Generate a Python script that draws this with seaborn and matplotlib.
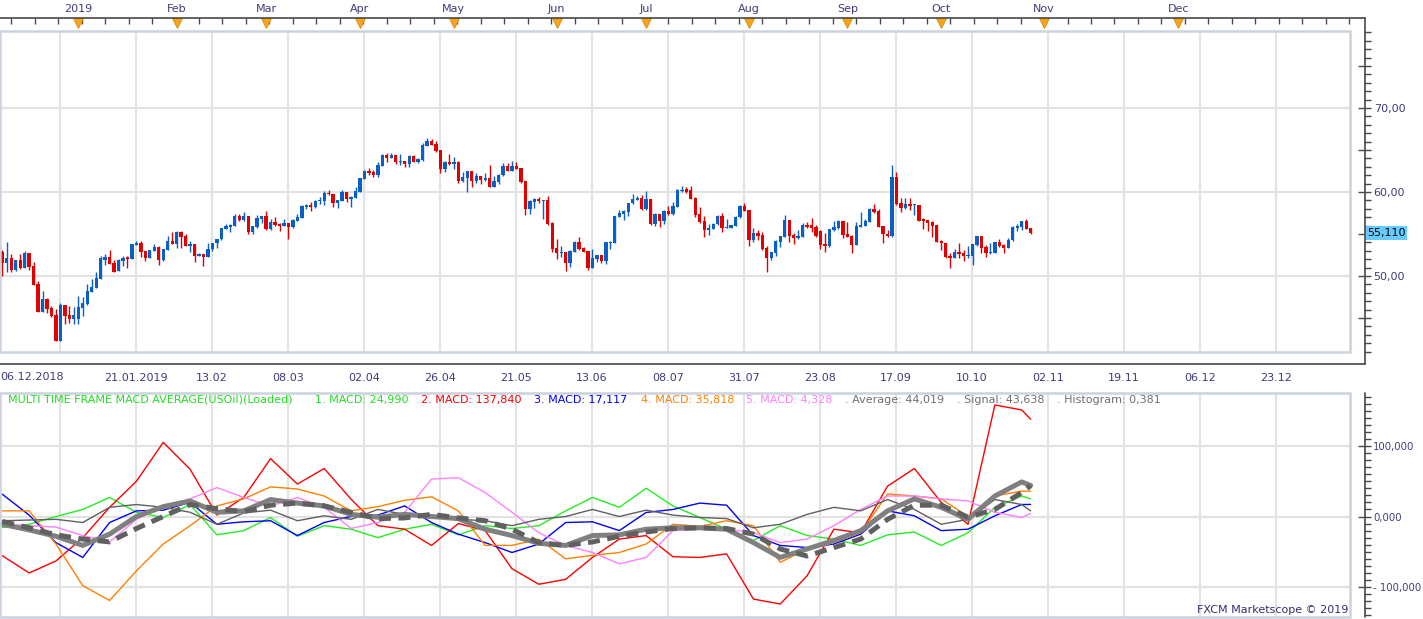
import numpy as np
import matplotlib
matplotlib.use("Agg")
import matplotlib.pyplot as plt
import seaborn as sns
from matplotlib.lines import Line2D
from matplotlib.patches import Rectangle
from matplotlib.ticker import FixedLocator, FixedFormatter, MultipleLocator, NullFormatter
from matplotlib.transforms import blended_transform_factory

# ---------------- data ----------------
opens = [52.82, 51.59, 52.10, 50.71, 51.90, 50.99, 52.70, 51.19, 49.05, 45.75,
         47.26, 46.15, 45.36, 42.30, 46.55, 45.36, 44.88, 44.88, 46.23, 46.67,
         48.13, 48.60, 49.64, 51.90, 52.30, 51.60, 50.60, 51.79, 52.30, 52.06,
         53.73, 53.97, 52.98, 52.10, 53.00, 53.50, 51.90, 53.10, 54.17, 53.80,
         55.28, 54.80, 53.60, 53.80, 52.38, 52.60, 52.30, 53.17, 53.90, 54.37,
         55.63, 55.87, 55.95, 57.14, 56.67, 57.14, 55.24, 55.80, 56.84, 57.14,
         55.56, 56.47, 56.23, 55.95, 56.31, 55.79, 56.59, 56.90, 58.20, 58.45,
         58.20, 58.97, 58.93, 59.92, 59.72, 58.73, 58.93, 59.96, 59.20, 59.32,
         60.04, 61.55, 62.50, 62.34, 62.02, 63.13, 64.40, 64.09, 64.40, 63.61,
         63.69, 63.33, 64.28, 63.57, 63.81, 65.50, 66.07, 65.70, 64.99, 62.74,
         63.57, 63.33, 63.57, 61.31, 61.70, 62.50, 61.31, 61.90, 61.43, 61.67,
         60.63, 61.23, 62.00, 63.10, 62.50, 63.10, 62.86, 61.31, 57.97, 58.85,
         59.17, 58.97, 59.05, 56.35, 53.37, 52.74, 52.86, 51.59, 52.86, 54.05,
         53.37, 52.98, 50.99, 52.06, 52.50, 51.78, 53.89, 53.97, 57.06, 57.42,
         57.66, 58.65, 59.05, 59.29, 57.97, 59.17, 56.19, 57.38, 56.59, 57.74,
         57.38, 58.25, 60.12, 60.36, 60.24, 59.29, 57.38, 56.55, 55.48, 55.63,
         56.15, 57.14, 55.75, 55.75, 56.00, 56.98, 58.33, 57.86, 54.29, 55.16,
         54.88, 53.33, 52.14, 52.78, 54.09, 54.68, 56.67, 54.84, 54.52, 54.68,
         56.07, 56.07, 55.83, 55.40, 53.81, 53.57, 55.48, 55.67, 56.55, 54.99,
         54.80, 53.73, 55.87, 56.00, 56.47, 57.98, 57.74, 55.95, 54.99, 54.76,
         61.79, 58.65, 58.13, 58.61, 58.45, 58.45, 56.79, 56.67, 56.47, 56.07,
         54.21, 53.89, 52.38, 52.18, 52.86, 52.70, 52.38, 52.38, 53.69, 54.76,
         53.41, 52.78, 52.78, 54.05, 53.69, 53.37, 54.25, 55.75, 55.83, 56.55,
         55.71]
closes = [51.59, 52.10, 50.71, 51.90, 50.91, 52.70, 51.10, 48.93, 45.75, 47.26,
          46.07, 45.28, 42.30, 46.55, 45.28, 44.88, 45.36, 46.30, 46.83, 48.20,
          48.73, 49.76, 52.18, 52.30, 51.43, 50.50, 51.90, 52.20, 52.00, 53.80,
          53.97, 52.90, 52.18, 53.10, 53.50, 51.90, 53.20, 54.17, 53.80, 55.28,
          54.68, 53.60, 53.80, 52.40, 52.60, 52.30, 53.20, 53.90, 54.40, 55.67,
          55.95, 56.10, 57.14, 56.67, 57.14, 55.24, 55.95, 56.87, 57.14, 55.56,
          56.47, 56.07, 55.95, 56.35, 55.79, 56.67, 57.06, 58.33, 58.45, 58.20,
          58.97, 59.05, 59.92, 59.72, 58.73, 59.05, 59.96, 59.17, 59.40, 60.12,
          61.63, 62.50, 62.22, 62.02, 63.21, 64.40, 64.09, 64.40, 63.61, 63.69,
          63.33, 64.28, 63.61, 63.93, 65.60, 66.07, 65.60, 64.88, 62.74, 63.57,
          63.33, 63.57, 61.31, 61.75, 62.50, 61.31, 61.90, 61.43, 61.70, 60.63,
          61.31, 62.02, 63.10, 62.54, 63.10, 62.74, 61.19, 57.97, 58.93, 59.17,
          58.93, 59.05, 56.19, 53.21, 52.78, 52.90, 51.59, 52.98, 54.05, 53.21,
          52.86, 50.99, 52.14, 52.50, 51.78, 54.00, 54.01, 57.14, 57.46, 57.74,
          58.69, 59.17, 59.29, 57.97, 59.17, 56.19, 57.38, 56.59, 57.74, 57.38,
          58.37, 60.24, 60.28, 60.04, 59.20, 57.26, 56.43, 55.48, 55.71, 56.19,
          57.14, 55.75, 55.87, 56.07, 56.98, 58.33, 57.78, 54.29, 55.16, 54.76,
          53.21, 52.14, 52.82, 54.21, 54.76, 56.67, 54.76, 54.52, 54.72, 56.07,
          55.79, 55.67, 54.80, 53.69, 53.57, 55.59, 55.87, 56.55, 54.88, 54.68,
          53.73, 55.95, 56.07, 56.55, 57.98, 57.58, 55.87, 54.96, 54.76, 61.79,
          58.57, 58.13, 58.61, 58.37, 58.53, 56.55, 56.55, 56.35, 55.99, 54.09,
          53.89, 52.26, 52.18, 52.86, 52.58, 52.42, 52.50, 53.81, 54.76, 53.37,
          52.78, 52.90, 54.05, 53.57, 53.37, 54.25, 55.83, 55.95, 56.55, 55.60,
          55.11]
highs = [53.10, 54.00, 52.62, 51.95, 52.62, 52.98, 52.75, 51.67, 49.40, 48.20,
         47.35, 46.43, 46.03, 46.80, 46.60, 46.43, 46.30, 47.60, 47.54, 49.05,
         49.60, 50.50, 52.38, 52.62, 53.10, 51.90, 52.00, 52.42, 52.35, 53.85,
         54.17, 54.17, 53.00, 53.15, 53.81, 53.55, 53.25, 54.80, 55.28, 55.35,
         55.35, 55.00, 54.17, 53.85, 52.78, 52.65, 53.89, 53.95, 54.45, 55.75,
         56.19, 56.15, 57.38, 57.38, 57.66, 57.20, 56.00, 57.26, 57.20, 57.78,
         56.79, 57.06, 56.28, 56.79, 56.36, 56.79, 57.38, 58.40, 58.57, 58.85,
         59.05, 59.44, 60.12, 60.24, 59.80, 59.10, 60.24, 60.00, 59.50, 60.63,
         61.70, 62.62, 62.90, 62.62, 63.61, 64.50, 64.64, 64.60, 64.45, 64.52,
         63.75, 64.35, 64.40, 64.09, 65.87, 66.43, 66.31, 66.07, 65.05, 63.65,
         64.52, 64.20, 63.65, 62.38, 62.55, 62.55, 62.22, 61.95, 62.22, 63.21,
         61.90, 62.10, 63.41, 63.49, 63.69, 63.57, 62.90, 61.35, 59.00, 59.25,
         59.44, 59.10, 59.52, 56.40, 54.41, 53.57, 52.90, 53.05, 54.17, 54.64,
         53.40, 53.00, 53.21, 52.55, 52.55, 54.05, 54.21, 57.20, 57.86, 57.80,
         58.75, 59.76, 59.52, 59.60, 60.16, 59.20, 57.45, 57.40, 57.80, 58.33,
         58.85, 60.36, 60.71, 60.59, 60.71, 59.35, 58.17, 57.14, 56.19, 56.25,
         57.26, 57.54, 56.79, 56.12, 57.14, 58.40, 58.73, 57.90, 55.67, 55.48,
         55.28, 53.57, 52.90, 54.25, 54.80, 57.26, 56.70, 55.16, 55.48, 56.27,
         56.43, 56.87, 56.07, 55.45, 55.08, 55.65, 56.59, 56.67, 56.60, 56.47,
         54.88, 56.47, 57.58, 56.75, 58.05, 58.61, 57.98, 56.00, 55.48, 63.21,
         62.38, 59.25, 59.25, 59.25, 58.60, 58.50, 56.95, 56.70, 56.50, 56.10,
         54.25, 53.95, 52.70, 53.17, 53.89, 53.10, 53.57, 53.85, 54.80, 54.80,
         53.69, 53.97, 54.10, 54.37, 53.75, 54.57, 55.90, 56.15, 56.60, 56.79,
         55.75]
lows = [50.04, 50.50, 50.52, 50.60, 50.83, 50.99, 50.71, 48.90, 45.70, 45.70,
        45.60, 45.08, 42.25, 42.25, 44.30, 44.40, 44.30, 44.30, 45.24, 46.55,
        48.05, 48.55, 49.60, 51.35, 51.40, 50.45, 50.55, 51.23, 50.99, 52.00,
        53.70, 52.22, 51.79, 52.10, 52.95, 51.35, 51.79, 53.05, 53.75, 53.29,
        53.29, 53.55, 52.90, 51.71, 52.35, 51.23, 52.25, 53.02, 53.29, 54.30,
        55.58, 55.28, 55.90, 56.60, 56.60, 55.00, 55.00, 55.67, 56.27, 55.50,
        55.50, 56.00, 55.36, 55.90, 54.40, 55.75, 56.55, 56.85, 57.98, 57.74,
        58.15, 58.57, 58.45, 59.65, 58.17, 58.13, 58.90, 58.85, 58.25, 59.28,
        60.00, 61.50, 62.02, 61.82, 61.82, 63.10, 63.61, 64.00, 63.29, 63.21,
        63.02, 63.02, 63.55, 63.49, 63.75, 65.45, 65.55, 64.80, 62.30, 62.42,
        63.25, 62.74, 61.03, 61.20, 60.04, 60.63, 61.11, 60.91, 61.35, 60.55,
        60.55, 60.91, 61.95, 62.45, 62.45, 62.70, 61.10, 57.26, 57.42, 58.13,
        58.65, 56.79, 56.10, 52.86, 52.06, 52.30, 50.63, 51.11, 52.80, 53.15,
        52.80, 50.75, 50.95, 51.71, 51.59, 51.43, 53.21, 53.90, 57.00, 56.71,
        57.18, 58.60, 59.00, 57.81, 57.90, 56.07, 55.95, 55.87, 56.15, 57.26,
        57.30, 58.20, 60.05, 59.92, 59.15, 57.06, 56.35, 54.68, 54.88, 55.55,
        56.10, 55.24, 55.70, 55.67, 55.95, 56.90, 57.70, 53.61, 54.09, 54.29,
        53.15, 50.52, 51.90, 52.42, 53.49, 54.60, 54.09, 53.77, 54.45, 54.60,
        55.70, 55.28, 54.70, 53.21, 52.90, 53.50, 55.40, 55.60, 54.56, 54.60,
        52.78, 53.65, 55.80, 55.95, 56.40, 57.50, 55.80, 53.97, 54.70, 54.70,
        58.50, 57.58, 57.97, 57.86, 57.26, 56.50, 55.60, 55.40, 54.68, 54.00,
        53.10, 52.18, 50.99, 52.10, 52.18, 51.83, 52.18, 51.35, 53.57, 52.70,
        52.30, 52.58, 52.70, 53.50, 52.70, 53.30, 54.20, 55.32, 55.48, 55.55,
        55.05]

month_labels = ['2019', 'Feb', 'Mar', 'Apr', 'May', 'Jun', 'Jul', 'Aug', 'Sep', 'Oct', 'Nov', 'Dec']
month_pos = [17, 39, 59, 80, 101, 124, 144, 167, 189, 210, 233, 263]
date_labels = ['06.12.2018', '21.01.2019', '13.02', '08.03', '02.04', '26.04', '21.05', '13.06',
               '08.07', '31.07', '23.08', '17.09', '10.10', '02.11', '19.11', '06.12', '23.12']
price_labels = ['', '50,00', '', '60,00', '', '70,00', '']
macd_labels = ['- 100,000', '0,000', '100,000']

macd_x = list(range(0, 229, 6)) + [230]
macd1 = [-15.6, -11, 0, 10, 27, 6, -1.4, 17, -26, -20, -1.4, -28, -13, -18, -30, -18, -11, -26, -13,
         -17, -13, 8, 27, 13, 40, 15, -1.4, -18, -34, -13, -27, -32, -41, -26, -22, -41, -23, 13, 29, 25.0]
macd2 = [-55.6, -80, -63, -30, 13, 50, 105, 67, 2, 27, 82, 46, 68, 24.5, -13, -18, -41, -10, -20,
         -74, -96, -89, -58, -32, -27, -57, -58, -53, -117, -124, -84, -18, -23, 43, 68, 20, -11, 158, 151, 137.8]
macd3 = [31.6, 2, -37, -58, -8.5, 8, 9, 20, -11, -7.5, -6, -27, -8.5, 0, 2, 15, -8.5, -25, -37,
         -51, -39, -8.5, -7.5, -20, 5.7, 10, 19, 16, -27, -41, -44, -39, -25, 8, 1, -20, -18, 1, 17, 17.1]
macd4 = [8, 8, -39, -98, -119, -77, -39, -13, 15, 25, 42, 39, 29, 8, 14, 23, 28, 8, -41,
         -41, -32, -60, -55, -51, -39, -11, -14, -6, -13, -65, -46, -37, -23, 32, 29, 25, 0, 29, 36, 35.8]
macd5 = [-11, -13, -15, -27, -36, -4, 14, 25, 41, 27, 15, 27, 13, -17, -8.5, 6, 53, 55, 34,
         6, -23, -41, -51, -67, -58, -20, -18, -18, -23, -37, -32, -13, 10, 29, 29, 25, 22, 6, -1.4, 4.3]
hist_line = [-6, -5, -4, -8.5, 13, 17, 13, 6, -11, 5, 9, -6, 1, -4, 10, 3, 1, -4, -6,
             -13, -4, 0, 10, 0, 9, 2, -1.4, -3, -16, -11, 3, 13, 8, 24, 10, -11, -4, 24, 17, 8]
average = [-11, -19, -28, -41, -25, 0, 14, 22, 6, 8, 24, 19, 15, 3, -1, 3, 0, -3, -18,
           -27, -38, -41, -27, -26, -18, -16, -16, -18, -37, -58, -46, -34, -20, 8, 25, 13, -4, 29, 49, 44]
signal = [-7, -16, -26, -32, -36, -17, 0, 17, 11, 7, 16, 19, 15, 6, -3, -2, 3, -2, -6,
          -18, -37, -41, -36, -28, -22, -17, -16, -17, -25, -46, -56, -44, -32, -4, 16, 16, -1, 10, 34, 43.6]

legend_items = [("MULTI TIME FRAME MACD AVERAGE(USOil)(Loaded)", '#22dd22'),
                ("1. MACD: 24,990", '#22dd22'), ("2. MACD: 137,840", '#ff0000'),
                ("3. MACD: 17,117", '#0000ff'), ("4. MACD: 35,818", '#ff8000'),
                ("5. MACD: 4,328", '#ff80ff'), (". Average: 44,019", '#707070'),
                (". Signal: 43,638", '#707070'), (". Histogram: 0,381", '#707070')]
last_price = 55.11

# ---------------- layout ----------------
sns.set_theme(style='white')
plt.rcParams['font.family'] = ['DejaVu Sans']

W, H = 1423, 619
fig = plt.figure(figsize=(W / 100, H / 100), dpi=100)
fig.patch.set_facecolor('white')


def rect(x0, y0, x1, y1):
    return [x0 / W, 1 - y1 / H, (x1 - x0) / W, (y1 - y0) / H]


def fx(px):
    return px / W


def fy(py):
    return 1 - py / H


BAR_PX = 4.471
X0 = -2.3 / BAR_PX
X1 = (1350 - 2.3) / BAR_PX
AXC = '#4a4a4a'
TXT = '#3c3c7c'
GRID = '#e2e2e2'
FRAME = '#cbd3de'
BLUE = '#0a5fc4'
RED = '#e00000'
PX2PT = 72 / 100

ax = fig.add_axes(rect(0, 31, 1350, 352))
ax2 = fig.add_axes(rect(0, 393, 1350, 617))
axm = fig.add_axes(rect(0, 18, 1365, 31))

grid_x = [12.905 + 16.998 * k for k in range(17)]

# ---- candles ----
o = np.array(opens)
c = np.array(closes)
hi = np.array(highs)
lo = np.array(lows)
xi = np.arange(len(c))
cols = np.where(c >= o, BLUE, RED)
ax.vlines(xi, lo, hi, colors=cols, lw=1.0, zorder=3)
ax.bar(xi, np.maximum(np.abs(c - o), 0.07), bottom=np.minimum(o, c), width=0.74,
       color=cols, linewidth=0, zorder=4)

for a in (ax, ax2):
    a.set_xlim(X0, X1)
    a.set_facecolor('white')
    for gx in grid_x:
        a.axvline(gx, color=GRID, lw=1.5, zorder=0)
    for s in a.spines.values():
        s.set_visible(False)
    a.add_patch(Rectangle((0, 0), 1, 1, transform=a.transAxes, fill=False,
                          ec=FRAME, lw=1.8, zorder=6, clip_on=False))

ax.set_ylim(40.95, 79.17)
for gy in (50, 60, 70):
    ax.axhline(gy, color=GRID, lw=1.5, zorder=0)
ax2.set_ylim(-142.4, 175)
for gy in (-100, 0, 100):
    ax2.axhline(gy, color=GRID, lw=1.5, zorder=0)

# ---- MACD panel lines (seaborn) ----
for series, colr in ((macd1, '#22ee22'), (macd2, '#ff0000'), (macd3, '#0000ff'),
                     (macd4, '#ff8000'), (macd5, '#ff80ff'), (hist_line, '#606060')):
    sns.lineplot(x=macd_x, y=series, ax=ax2, color=colr, lw=1.0, zorder=3)
sns.lineplot(x=macd_x, y=average, ax=ax2, color='#808080', lw=5 * PX2PT, zorder=4)
sns.lineplot(x=macd_x, y=signal, ax=ax2, color='#606060', lw=5 * PX2PT, zorder=5)
ax2.lines[-1].set_linestyle((0, (2.4, 1.5)))
ax2.set_xlabel('')
ax2.set_ylabel('')

# ---- right price axis ----
ax.yaxis.tick_right()
ax.spines['right'].set_position(('outward', 15 * PX2PT / 0.72))
ax.yaxis.set_major_locator(FixedLocator([45, 50, 55, 60, 65, 70, 75]))
ax.yaxis.set_major_formatter(FixedFormatter(price_labels))
ax.yaxis.set_minor_locator(MultipleLocator(1))
ax.tick_params(axis='y', which='major', direction='in', length=13 * PX2PT, width=1,
               color=AXC, labelsize=8, labelcolor=TXT, pad=2)
ax.tick_params(axis='y', which='minor', direction='in', length=7 * PX2PT, width=1, color=AXC)

# ---- bottom date axis ----
ax.spines['bottom'].set_position(('outward', 12 * PX2PT / 0.72))
ax.xaxis.set_major_locator(FixedLocator(grid_x))
ax.xaxis.set_major_formatter(FixedFormatter([''] + date_labels[1:]))
ax.xaxis.set_minor_locator(FixedLocator([12.905 + 4.2495 * k for k in range(-3, 69)]))
ax.xaxis.set_minor_formatter(NullFormatter())
ax.tick_params(axis='x', which='major', direction='in', length=12 * PX2PT, width=1,
               color=AXC, labelsize=8, labelcolor=TXT, pad=3)
ax.tick_params(axis='x', which='minor', direction='in', length=6 * PX2PT, width=1, color=AXC)
ax.text(X0, -0.078, date_labels[0], transform=blended_transform_factory(ax.transData, ax.transAxes),
        ha='left', va='center', fontsize=8, color=TXT)

# ---- right MACD axis ----
ax2.yaxis.tick_right()
ax2.spines['right'].set_position(('outward', 15 * PX2PT / 0.72))
ax2.yaxis.set_major_locator(FixedLocator([-100, 0, 100]))
ax2.yaxis.set_major_formatter(FixedFormatter(macd_labels))
ax2.yaxis.set_minor_locator(MultipleLocator(10))
ax2.tick_params(axis='y', which='major', direction='in', length=13 * PX2PT, width=1,
                color=AXC, labelsize=7.3, labelcolor=TXT, pad=1.5)
ax2.tick_params(axis='y', which='minor', direction='in', length=7 * PX2PT, width=1, color=AXC)
ax2.tick_params(axis='x', which='both', bottom=False, labelbottom=False)

# ---- month strip ----
axm.set_xlim(X0, X0 + 1365 / BAR_PX)
axm.set_ylim(0, 1)
axm.patch.set_alpha(0)
for s in axm.spines.values():
    s.set_visible(False)
axm.set_yticks([])
axm.xaxis.set_ticks_position('top')
axm.xaxis.set_major_locator(FixedLocator(month_pos))
axm.xaxis.set_major_formatter(FixedFormatter(month_labels))
axm.xaxis.set_minor_locator(FixedLocator([2 + 5.25 * k for k in range(0, 58)]))
axm.tick_params(axis='x', which='major', direction='in', length=0, labelsize=8,
                labelcolor=TXT, pad=3)
axm.tick_params(axis='x', which='minor', direction='in', length=6 * PX2PT, width=1, color=AXC)
axm.plot(month_pos, [0.62] * len(month_pos), ls='none', marker='v', ms=7.5,
         mfc='#f7a51e', mec='#e08a00', mew=0.6, clip_on=False, zorder=5)

# ---- axis frame lines ----
for (xa, ya, xb, yb) in ((0, 18, 1365, 18), (1365, 18, 1365, 364), (0, 364, 1365, 364),
                         (1365, 393, 1365, 617)):
    fig.add_artist(Line2D([fx(xa), fx(xb)], [fy(ya), fy(yb)], color=AXC, lw=1.2 * PX2PT * 1.4))

# ---- last price marker ----
ax.text(1367 / 1350, last_price, f"{last_price:.3f}".replace('.', ','),
        transform=blended_transform_factory(ax.transAxes, ax.transData),
        ha='left', va='center', fontsize=8, color='black', zorder=10, clip_on=False,
        bbox=dict(boxstyle='square,pad=0.18', fc='#66ccff', ec='none'))

# ---- legend texts ----
legend_x = [8, 315, 421, 534, 641, 746, 845, 957, 1057]
for (txt, colr), lx in zip(legend_items, legend_x):
    fig.text(fx(lx), fy(400), txt, color=colr, fontsize=8, ha='left', va='center')

fig.text(fx(1348), fy(610), "FXCM Marketscope \u00a9 2019", color='#3c2c6c', fontsize=8,
         ha='right', va='center')

fig.savefig('out.png', dpi=100, facecolor='white')
